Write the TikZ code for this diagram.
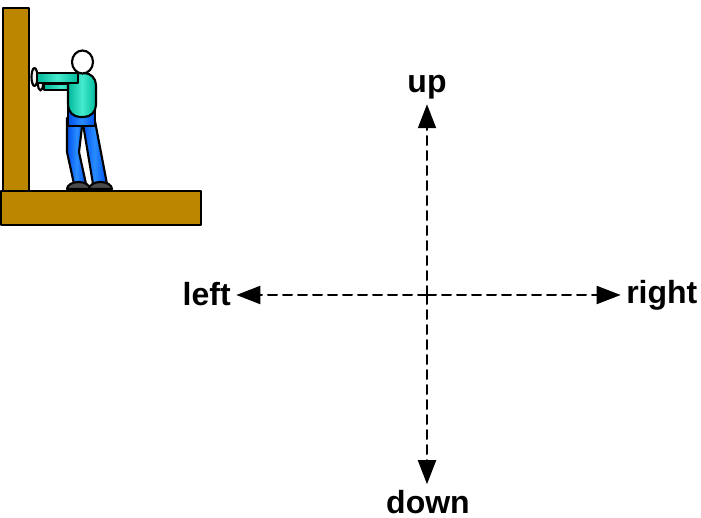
\documentclass[tikz,border=0pt]{standalone}
\usepackage{fontspec}
\setmainfont{Liberation Sans}
\usetikzlibrary{arrows.meta}

\definecolor{wood}{RGB}{188,134,0}
\definecolor{shirt}{RGB}{0,185,155}
\definecolor{shirtlight}{RGB}{70,235,205}
\definecolor{jeans}{RGB}{0,80,235}
\definecolor{jeanslight}{RGB}{40,140,255}
\definecolor{shoe}{RGB}{75,75,75}

\begin{document}
\begin{tikzpicture}[line cap=round, line join=round, x=0.75pt, y=-0.75pt,
                outline/.style={draw=black, line width=1.6pt},
                shirtfill/.style={left color=shirt, right color=shirt, middle color=shirtlight},
                jeansfill/.style={left color=jeans, right color=jeans, middle color=jeanslight},
                dirarrow/.style={dash pattern=on 6.75pt off 4.5pt, line width=1.5pt, shorten >=4pt,
                    -{Triangle[length=18pt, width=13.5pt]}},
                dirlabel/.style={font=\fontsize{24}{24}\selectfont\bfseries, inner sep=0pt}]

                \useasboundingbox (0,0) rectangle (701,518);

                \draw[outline, fill=wood] (3,8) rectangle (29,191);
                \draw[outline, fill=wood] (1,191) rectangle (201,225);

                \draw[outline, fill=gray!10] (40.5,84) ellipse [x radius=2.5, y radius=6.5];
                \draw[outline, shirtfill] (44,84) rectangle (78,90);

                \draw[outline, jeansfill] (67,118) -- (67,152) -- (74,184) -- (86,184) -- (79,152) -- (83,118) -- cycle;
                \draw[outline, jeansfill] (82,118) -- (94,116) -- (107,184) -- (93,184) -- cycle;
                \draw[outline, jeansfill] (68,106) rectangle (95,126);

                \draw[outline, shirtfill, rounded corners=9pt] (68,73) rectangle (96,117);

                \draw[outline, fill=gray!10] (34.5,77) ellipse [x radius=3, y radius=9];
                \draw[outline, shirtfill] (37,73) rectangle (78,83);

                \draw[outline, fill=white] (82.5,62) ellipse [x radius=10.5, y radius=11.5];

                \draw[outline, fill=shoe] (67,189) arc[start angle=180, end angle=360, x radius=11.5, y radius=7] -- cycle;
                \draw[outline, fill=shoe] (89,189) arc[start angle=180, end angle=360, x radius=11.5, y radius=7] -- cycle;

                \node[dirlabel, anchor=base] (up) at (427,92) {up};
                \node[dirlabel, anchor=base] (down) at (428,513) {down};
                \node[dirlabel, anchor=base east] (left) at (231,305) {left};
                \node[dirlabel, anchor=base west] (right) at (626,303) {right};

                \coordinate (o) at (427,295);
                \draw[dirarrow] (o) -- (o |- up.south);
                \draw[dirarrow] (o) -- (o |- down.north);
                \draw[dirarrow] (o) -- (o -| left.east);
                \draw[dirarrow] (o) -- (o -| right.west);

            \end{tikzpicture}
\end{document}
